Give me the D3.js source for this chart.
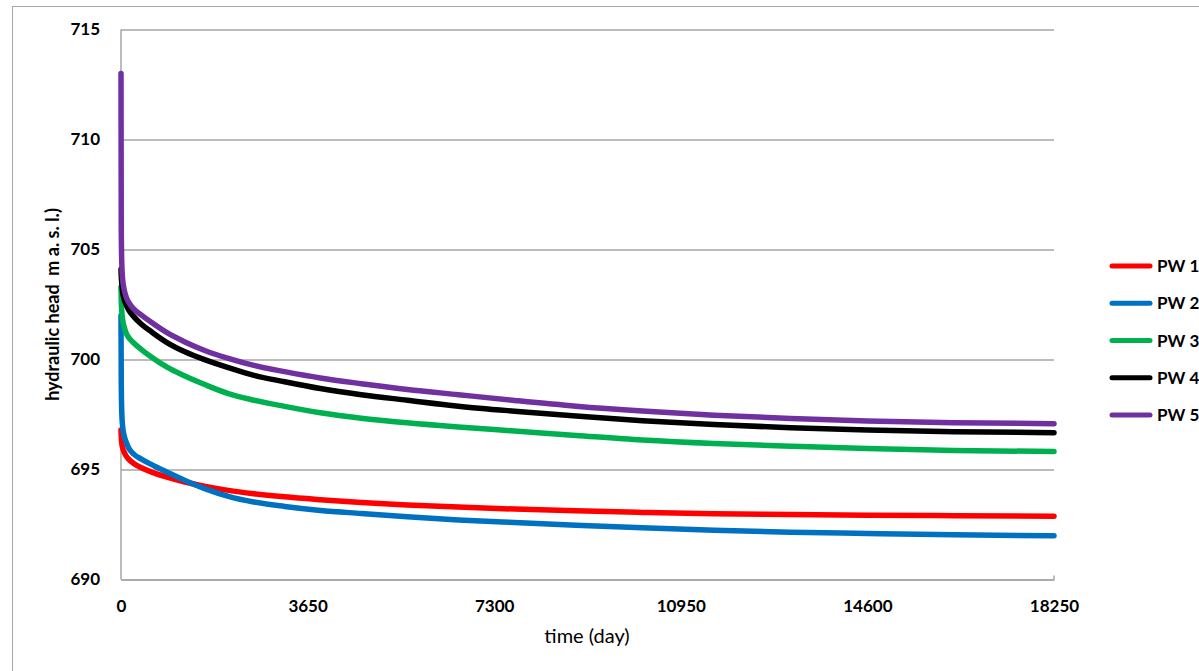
<!DOCTYPE html>
<html>
<head>
<meta charset="utf-8">
<script src="https://cdn.jsdelivr.net/npm/d3@7"></script>
<style>
  html, body { margin: 0; padding: 0; background: #fff; overflow: hidden; }
  svg { display: block; }
</style>
</head>
<body>
<svg id="chart" width="1199" height="671"></svg>
<script>
// ---- data ----
const times = [0, 5, 15, 30, 60, 100, 150, 250, 400, 600, 900, 1250, 1650, 2100, 2600, 3200, 3900, 4700, 5600, 6600, 7700, 8900, 10200, 11600, 13100, 14600, 16300, 18250];
const pw1 = [696.8, 696.45, 696.2, 696.0, 695.8, 695.62, 695.47, 695.27, 695.08, 694.88, 694.65, 694.43, 694.23, 694.05, 693.9, 693.76, 693.63, 693.5, 693.39, 693.29, 693.2, 693.12, 693.05, 692.99, 692.95, 692.92, 692.9, 692.88];
const pw2 = [702.0, 699.0, 697.6, 697.0, 696.55, 696.25, 695.98, 695.7, 695.47, 695.22, 694.88, 694.5, 694.12, 693.78, 693.52, 693.32, 693.14, 693.0, 692.85, 692.71, 692.59, 692.47, 692.35, 692.24, 692.15, 692.09, 692.03, 691.99];
const pw3 = [703.3, 702.7, 702.2, 701.85, 701.5, 701.2, 701.0, 700.75, 700.45, 700.1, 699.65, 699.25, 698.85, 698.45, 698.15, 697.87, 697.58, 697.33, 697.12, 696.93, 696.75, 696.55, 696.34, 696.18, 696.06, 695.95, 695.86, 695.82];
const pw4 = [704.1, 703.8, 703.45, 703.1, 702.75, 702.5, 702.25, 701.95, 701.6, 701.25, 700.77, 700.35, 699.98, 699.63, 699.28, 698.99, 698.68, 698.4, 698.15, 697.88, 697.65, 697.43, 697.22, 697.04, 696.9, 696.8, 696.72, 696.67];
const pw5 = [713.0, 706.0, 704.4, 703.7, 703.2, 702.85, 702.6, 702.3, 702.02, 701.68, 701.22, 700.8, 700.4, 700.05, 699.73, 699.45, 699.16, 698.9, 698.64, 698.4, 698.14, 697.88, 697.66, 697.47, 697.32, 697.21, 697.13, 697.08];
const seriesNames = ["PW 1", "PW 2", "PW 3", "PW 4", "PW 5"];
const seriesValues = [pw1, pw2, pw3, pw4, pw5];
const seriesColors = ["#ff0000", "#0070c0", "#00b050", "#000000", "#7030a0"];
const xTicks = [0, 3650, 7300, 10950, 14600, 18250];
const yTicks = [690, 695, 700, 705, 710, 715];
const xTitle = "time (day)";
const yTitle = "hydraulic head  m a. s. l.)";

// ---- layout ----
const svg = d3.select("#chart");
const plotLeft = 121, plotRight = 1054, plotTop = 29.5, plotBottom = 579.5;
const x = d3.scaleLinear().domain([0, 18250]).range([plotLeft, plotRight]);
const y = d3.scaleLinear().domain([690, 715]).range([plotBottom, plotTop]);
const gridColor = "#a6a6a6";
const font = "Lato, 'Open Sans', sans-serif";

// outer frame
svg.append("rect")
  .attr("x", 12.5).attr("y", 6.5)
  .attr("width", 1300).attr("height", 800)
  .attr("fill", "none").attr("stroke", "#a6a6a6").attr("stroke-width", 1);

// y axis with gridlines
const yAxis = svg.append("g")
  .attr("transform", `translate(${plotLeft},0)`)
  .call(d3.axisLeft(y).tickValues(yTicks).tickSize(-(plotRight - plotLeft)).tickPadding(21).tickFormat(d3.format("d")));
yAxis.select(".domain").remove();
yAxis.selectAll(".tick line").attr("stroke", gridColor).attr("stroke-width", 1.5);
yAxis.selectAll(".tick text")
  .attr("font-family", font).attr("font-size", 17).attr("font-weight", "bold").attr("fill", "#000");

// vertical axis line
svg.append("line")
  .attr("x1", plotLeft).attr("x2", plotLeft).attr("y1", plotTop).attr("y2", plotBottom)
  .attr("stroke", gridColor).attr("stroke-width", 1.5);
// small end tick on the x axis
svg.append("line")
  .attr("x1", plotRight).attr("x2", plotRight).attr("y1", plotBottom).attr("y2", plotBottom - 4)
  .attr("stroke", gridColor).attr("stroke-width", 1.5);

// x axis
const xAxis = svg.append("g")
  .attr("transform", `translate(0,${plotBottom})`)
  .call(d3.axisBottom(x).tickValues(xTicks).tickSize(0).tickPadding(20).tickFormat(d3.format("d")));
xAxis.select(".domain").attr("stroke", gridColor).attr("stroke-width", 1.5);
xAxis.selectAll(".tick text")
  .attr("font-family", font).attr("font-size", 17).attr("font-weight", "bold").attr("fill", "#000");

// axis titles
svg.append("text")
  .attr("x", 587).attr("y", 643)
  .attr("text-anchor", "middle")
  .attr("font-family", font).attr("font-size", 20).attr("fill", "#000")
  .text(xTitle);
svg.append("text")
  .attr("transform", `translate(59,${(plotTop + plotBottom) / 2}) rotate(-90)`)
  .attr("text-anchor", "middle")
  .attr("font-family", font).attr("font-size", 18).attr("font-weight", "bold").attr("fill", "#000")
  .attr("xml:space", "preserve")
  .style("white-space", "pre")
  .text(yTitle);

// lines
const line = d3.line()
  .x((d, i) => x(times[i]))
  .y(d => y(d))
  .curve(d3.curveMonotoneX);
seriesValues.forEach((vals, k) => {
  svg.append("path")
    .datum(vals)
    .attr("d", line)
    .attr("fill", "none")
    .attr("stroke", seriesColors[k])
    .attr("stroke-width", 5.5)
    .attr("stroke-linejoin", "round")
    .attr("stroke-linecap", "round");
});

// legend
const legY0 = 266, legDy = 37.25;
seriesNames.forEach((name, k) => {
  const ly = legY0 + k * legDy;
  svg.append("line")
    .attr("x1", 1112).attr("x2", 1150).attr("y1", ly).attr("y2", ly)
    .attr("stroke", seriesColors[k]).attr("stroke-width", 5).attr("stroke-linecap", "round");
  svg.append("text")
    .attr("x", 1157).attr("y", ly).attr("dy", "0.36em")
    .attr("font-family", font).attr("font-size", 17).attr("font-weight", "bold").attr("fill", "#000")
    .text(name);
});
</script>
</body>
</html>
